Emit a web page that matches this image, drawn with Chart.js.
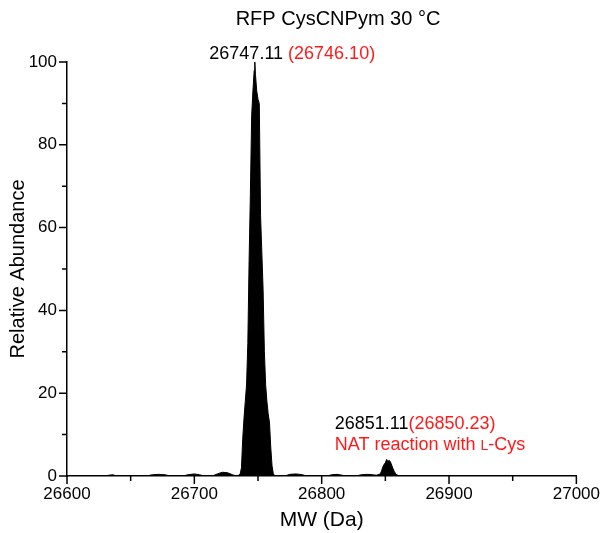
<!DOCTYPE html>
<html>
<head>
<meta charset="utf-8">
<script src="https://cdn.jsdelivr.net/npm/chart.js@4/dist/chart.umd.min.js"></script>
<style>
  html, body { margin:0; padding:0; background:#fff; }
  #wrap { width:608px; height:533px; }
</style>
</head>
<body>
<div id="wrap"><canvas id="msChart" width="608" height="533"></canvas></div>
<script>
/* ----------------------------------------------------------
   Data
   ---------------------------------------------------------- */
var mwValues = [
  26600, 26630, 26633, 26636, 26639,
  26662, 26667, 26672, 26677, 26681,
  26691, 26695, 26700, 26704, 26708,
  26714, 26718, 26722, 26726, 26730, 26733,
  26735, 26736, 26737, 26738, 26739, 26740, 26741, 26742, 26743, 26744, 26745, 26746, 26747,
  26747.5, 26748, 26749, 26750, 26751, 26752, 26753, 26754, 26755, 26756, 26757, 26758, 26759,
  26760, 26761, 26762, 26763, 26766,
  26771, 26775, 26780, 26785, 26788,
  26804, 26808, 26812, 26816, 26819,
  26827, 26831, 26836, 26840, 26843,
  26846, 26847, 26848, 26849, 26850, 26851, 26852, 26853, 26854, 26855, 26856, 26857, 26858, 26859, 26861,
  27000
];
var abundance = [
  0, 0, 0.2, 0.3, 0,
  0, 0.3, 0.4, 0.3, 0,
  0, 0.3, 0.5, 0.3, 0,
  0, 0.5, 0.9, 0.8, 0.3, 0,
  0.2, 0.5, 2, 9, 14, 18, 22, 32, 52, 68, 87, 93, 98,
  100, 97, 93, 91, 90, 63, 54, 45, 30, 22, 18, 15, 13,
  7, 2.5, 0.6, 0.1, 0,
  0, 0.4, 0.5, 0.3, 0,
  0, 0.3, 0.4, 0.2, 0,
  0, 0.3, 0.4, 0.3, 0.2,
  0.5, 1.2, 2.2, 2.8, 3.2, 4.0, 3.5, 3.8, 3.4, 2.6, 1.8, 1.1, 0.6, 0.3, 0,
  0
];
var xTicks = [26600, 26700, 26800, 26900, 27000];
var yTicks = [0, 20, 40, 60, 80, 100];

var peakMain  = { mw: 26747.11, found: '26747.11', calc: '(26746.10)' };
var peakAdd   = { mw: 26851.11, found: '26851.11', calc: '(26850.23)' };

/* ----------------------------------------------------------
   Plugin: title, peak labels, tick marks
   ---------------------------------------------------------- */
var FONT = "'Liberation Sans', Arial, sans-serif";

var decorPlugin = {
  id: 'decor',
  afterDraw: function(chart) {
    var ctx = chart.ctx;
    var xs = chart.scales.x, ys = chart.scales.y;
    var area = chart.chartArea;
    ctx.save();

    // tick marks (major + minor)
    ctx.strokeStyle = '#000';
    ctx.lineWidth = 1.5;
    ctx.beginPath();
    for (var v = 26600; v <= 27000; v += 50) {
      var px = xs.getPixelForValue(v);
      var len = (v % 100 === 0) ? 8 : 5;
      ctx.moveTo(px, area.bottom);
      ctx.lineTo(px, area.bottom + len);
    }
    for (var w = 0; w <= 100; w += 10) {
      var py = ys.getPixelForValue(w);
      var l2 = (w % 20 === 0) ? 8 : 5;
      ctx.moveTo(area.left, py);
      ctx.lineTo(area.left - l2, py);
    }
    ctx.stroke();

    // title
    ctx.fillStyle = '#000';
    ctx.font = '20px ' + FONT;
    ctx.textAlign = 'center';
    ctx.textBaseline = 'middle';
    ctx.fillText('RFP CysCNPym 30 °C', 338, 19);

    // main peak label
    ctx.font = '18px ' + FONT;
    ctx.textAlign = 'left';
    ctx.textBaseline = 'alphabetic';
    var x1 = xs.getPixelForValue(peakMain.mw) - 45;
    ctx.fillStyle = '#000';
    ctx.fillText(peakMain.found, x1, 59);
    var w1 = ctx.measureText(peakMain.found + ' ').width;
    ctx.fillStyle = '#ff1a1a';
    ctx.fillText(peakMain.calc, x1 + w1, 59);

    // adduct peak label
    var x2 = xs.getPixelForValue(peakAdd.mw) - 52;
    ctx.fillStyle = '#000';
    ctx.fillText(peakAdd.found, x2, 429);
    var w2 = ctx.measureText(peakAdd.found).width;
    ctx.fillStyle = '#ff1a1a';
    ctx.fillText(peakAdd.calc, x2 + w2, 429);

    var s1 = 'NAT reaction with ';
    ctx.fillText(s1, x2, 450);
    var wa = ctx.measureText(s1).width;
    ctx.font = '14px ' + FONT;
    ctx.fillText('L', x2 + wa, 450);
    var wb = ctx.measureText('L').width;
    ctx.font = '18px ' + FONT;
    ctx.fillText('-Cys', x2 + wa + wb, 450);

    ctx.restore();
  }
};

/* ----------------------------------------------------------
   Chart
   ---------------------------------------------------------- */
var points = mwValues.map(function(m, i) { return { x: m, y: abundance[i] }; });

new Chart(document.getElementById('msChart'), {
  type: 'line',
  data: {
    datasets: [{
      label: 'Relative Abundance',
      data: points,
      borderColor: '#000',
      backgroundColor: '#000',
      borderWidth: 1,
      fill: 'origin',
      pointRadius: 0,
      tension: 0
    }]
  },
  options: {
    responsive: false,
    animation: false,
    layout: { padding: { top: 62, right: 26, left: 0, bottom: 0 } },
    plugins: { legend: { display: false }, tooltip: { enabled: false }, title: { display: false } },
    scales: {
      x: {
        type: 'linear', min: 26600, max: 27000,
        afterBuildTicks: function(s) { s.ticks = xTicks.map(function(v) { return { value: v }; }); },
        afterFit: function(s) { s.height = 57; },
        grid: { display: false, drawTicks: false },
        border: { display: true, color: '#000', width: 1.5 },
        ticks: { color: '#000', font: { family: FONT, size: 17 }, padding: 8, maxRotation: 0,
                 callback: function(v) { return String(v); } },
        title: { display: true, text: 'MW (Da)', color: '#000', font: { family: FONT, size: 21 }, padding: { top: 2, bottom: 0 } }
      },
      y: {
        min: 0, max: 100,
        afterBuildTicks: function(s) { s.ticks = yTicks.map(function(v) { return { value: v }; }); },
        afterFit: function(s) { s.width = 67; },
        grid: { display: false, drawTicks: false },
        border: { display: true, color: '#000', width: 1.5 },
        ticks: { color: '#000', font: { family: FONT, size: 17 }, padding: 10 },
        title: { display: true, text: 'Relative Abundance', color: '#000', font: { family: FONT, size: 20 }, padding: { top: 6, bottom: 0 } }
      }
    }
  },
  plugins: [decorPlugin]
});
</script>
</body>
</html>
